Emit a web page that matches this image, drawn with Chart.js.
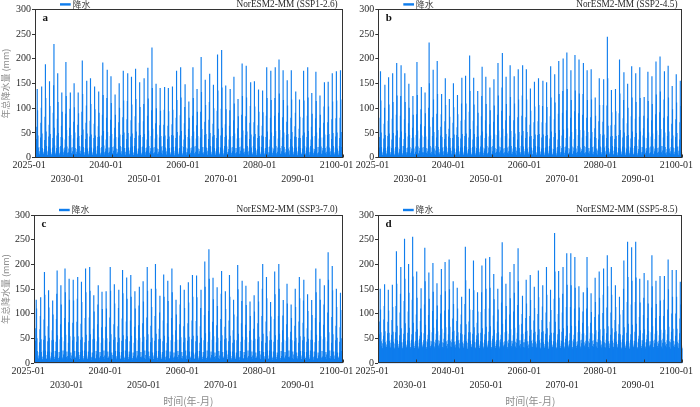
<!DOCTYPE html>
<html>
<head>
<meta charset="utf-8">
<script src="https://cdn.jsdelivr.net/npm/chart.js@4.4.0/dist/chart.umd.min.js"></script>
<style>
    html, body { margin: 0; padding: 0; background: #fff; }
    #wrap { position: relative; width: 700px; height: 407px; overflow: hidden; }
    canvas { position: absolute; }
</style>
</head>
<body>
<div id="wrap">
    <canvas id="pa" width="375" height="200" style="left:0;top:0"></canvas>
    <canvas id="pb" width="355" height="200" style="left:345px;top:0"></canvas>
    <canvas id="pc" width="375" height="207" style="left:0;top:200px"></canvas>
    <canvas id="pd" width="355" height="207" style="left:345px;top:200px"></canvas>
</div>
<script>
// --- DATA ---
// monthly precipitation (mm), 2025-01 .. 2100-01, one line per year (Jan..Dec)
const START_YEAR = 2025;
const MONTH_COUNT = 901;

const SERIES_LABEL = "降水";
const Y_TITLE = "年总降水量 (mm)";
const X_TITLE = "时间(年-月)";
const TICK_LABELS = ["2025-01", "2030-01", "2040-01", "2050-01", "2060-01", "2070-01", "2080-01", "2090-01", "2100-01"];
const TICK_INDEX = [0, 112, 225, 337, 450, 562, 675, 787, 900];
const Y_MIN = 0, Y_MAX = 300, Y_STEP = 50;

const ssp126 = [
    4,5,10,18,37,62,138,95,44,20,8,4,
    3,6,12,21,40,70,100,143,48,19,9,5,
    5,7,11,17,35,82,188,120,52,23,10,4,
    4,5,13,22,42,66,154,104,47,18,7,3,
    3,6,10,20,39,90,146,229,60,24,9,5,
    5,6,12,19,44,78,170,112,49,21,8,4,
    4,7,11,23,41,64,131,92,40,18,10,5,
    3,5,14,20,36,88,193,124,55,22,9,4,
    5,6,10,18,43,60,98,131,45,20,8,3,
    4,5,12,21,38,72,150,101,50,19,7,5,
    3,6,11,17,40,66,131,89,43,23,9,4,
    5,7,13,22,45,92,196,128,56,21,10,5,
    4,5,10,19,37,70,105,155,48,18,8,4,
    3,6,12,20,42,74,160,108,46,20,9,3,
    5,5,11,18,39,68,143,97,44,22,7,5,
    4,7,14,23,41,63,133,90,42,19,8,4,
    3,6,10,21,44,86,192,126,53,24,10,5,
    5,5,12,18,36,80,120,177,51,20,9,4,
    4,6,11,20,43,76,164,110,47,21,8,3,
    3,5,13,22,38,60,127,86,41,18,7,5,
    5,7,10,17,40,71,150,100,46,23,9,4,
    4,6,12,21,45,81,175,115,50,19,10,5,
    3,5,11,19,37,77,114,170,49,20,8,4,
    5,6,14,20,42,75,163,107,48,22,9,3,
    4,5,10,23,39,83,179,118,52,18,7,5,
    3,7,12,18,44,70,152,102,45,21,8,4,
    5,6,11,22,41,73,108,160,47,19,10,5,
    4,5,13,20,36,84,181,119,54,23,9,4,
    3,6,12,19,43,95,222,140,58,20,8,3,
    5,5,10,21,38,69,149,99,46,18,7,5,
    4,7,11,17,40,65,140,94,43,22,9,4,
    3,6,14,23,42,66,96,142,44,20,10,5,
    5,5,12,18,37,64,140,93,42,19,8,4,
    4,6,10,20,45,67,143,96,44,21,9,3,
    3,5,13,22,39,80,175,116,51,18,7,5,
    5,7,11,19,44,85,182,121,53,23,8,4,
    4,6,12,21,36,69,102,148,45,20,10,5,
    3,5,10,18,41,58,113,80,38,19,9,4,
    5,6,14,20,43,84,182,120,52,22,8,3,
    4,5,11,23,38,65,138,92,43,18,7,5,
    3,7,12,17,40,92,203,132,57,21,9,4,
    5,6,10,21,45,72,157,106,47,20,10,5,
    4,5,13,19,37,76,112,169,49,23,8,4,
    3,6,11,22,42,68,147,99,45,19,9,3,
    5,5,12,18,39,94,208,135,58,21,7,5,
    4,7,10,20,44,98,217,141,60,18,8,4,
    3,6,14,23,41,67,145,97,44,22,10,5,
    5,5,11,17,36,64,95,138,42,20,9,4,
    4,6,12,21,43,75,163,109,48,19,8,3,
    3,5,10,19,38,59,118,83,39,21,7,5,
    5,7,13,22,40,86,190,124,54,18,9,4,
    4,6,11,18,45,83,185,121,52,23,10,5,
    3,5,12,20,37,70,104,152,46,20,8,4,
    5,6,10,23,42,71,154,103,47,19,9,3,
    4,5,14,17,39,65,137,92,43,22,7,5,
    3,7,11,21,44,64,135,91,42,18,8,4,
    5,6,12,19,41,84,182,120,52,21,10,5,
    4,5,10,22,36,80,175,116,50,20,9,4,
    3,6,13,18,43,84,120,182,53,23,8,3,
    5,5,11,20,38,90,198,129,55,19,7,5,
    4,7,12,23,40,81,176,116,50,21,9,4,
    3,6,10,17,45,72,156,105,47,18,10,5,
    5,5,14,21,37,80,176,117,51,22,8,4,
    4,6,11,19,42,63,90,133,41,20,9,3,
    3,5,12,22,39,58,117,82,39,19,7,5,
    5,7,10,18,44,80,175,115,50,23,8,4,
    4,6,13,20,41,84,182,121,53,20,10,5,
    3,5,11,23,36,62,130,88,42,18,9,4,
    5,6,12,17,43,79,173,114,50,21,8,3,
    4,5,10,21,38,60,125,86,40,22,7,5,
    3,7,14,19,40,70,103,152,46,19,9,4,
    5,6,11,22,45,71,153,103,47,20,10,5,
    4,5,12,18,37,77,170,113,49,23,8,4,
    3,6,10,20,42,79,174,115,50,18,9,3,
    5,5,13,23,39,80,176,117,51,21,7,5,
    4
];

const ssp245 = [
    5,6,12,20,41,80,174,115,50,21,9,4,
    4,5,11,18,38,68,100,147,45,19,8,5,
    3,7,13,22,43,74,162,107,48,22,10,4,
    5,6,10,19,36,78,170,112,49,18,7,3,
    4,5,12,21,44,86,191,125,54,20,9,5,
    3,6,11,17,40,84,124,186,52,23,8,4,
    5,5,14,23,37,77,170,112,49,19,10,5,
    4,7,10,20,42,69,149,100,45,21,9,4,
    3,6,12,18,39,60,124,86,40,18,7,3,
    5,5,11,22,45,87,193,126,54,22,8,5,
    4,6,13,19,38,67,97,142,44,20,10,4,
    3,5,10,21,41,63,131,89,42,19,9,5,
    5,7,12,18,36,100,232,150,62,23,8,4,
    4,6,11,20,43,81,177,117,51,18,7,3,
    3,5,14,23,40,88,195,128,55,21,9,5,
    5,6,10,17,44,62,87,128,41,20,10,4,
    4,5,12,21,37,73,160,106,47,22,8,5,
    3,7,11,19,42,58,118,82,39,19,9,4,
    5,6,13,22,39,70,150,101,46,18,7,3,
    4,5,10,18,45,61,126,87,41,23,10,5,
    3,6,12,20,38,74,109,161,47,20,8,4,
    5,5,11,23,43,76,165,109,48,21,9,5,
    4,7,14,17,40,92,206,134,57,19,7,4,
    3,6,10,21,36,74,161,107,47,22,8,3,
    5,5,12,19,41,64,134,90,42,18,10,5,
    4,6,11,22,44,83,124,183,52,20,9,4,
    3,5,13,18,39,75,163,108,48,23,8,5,
    5,7,10,20,42,67,141,95,44,21,7,4,
    4,6,12,23,37,72,158,105,46,19,9,3,
    3,5,11,17,45,86,191,125,54,22,10,5,
    5,6,14,21,40,94,141,211,58,18,8,4,
    4,5,10,19,43,75,163,108,48,20,9,5,
    3,7,12,22,38,84,186,122,53,23,7,4,
    5,6,11,18,41,75,164,109,48,21,8,3,
    4,5,13,20,36,81,178,117,51,19,10,5,
    3,6,10,23,44,84,125,186,53,22,9,4,
    5,5,12,17,39,81,178,117,51,18,8,5,
    4,7,11,21,42,66,139,94,43,20,7,4,
    3,6,14,19,37,71,153,103,46,23,9,3,
    5,5,10,22,45,73,160,106,47,21,10,5,
    4,6,12,18,40,71,104,155,46,19,8,4,
    3,5,11,20,43,70,152,102,45,22,9,5,
    5,7,13,23,38,83,184,121,52,18,7,4,
    4,6,10,17,41,77,168,111,49,20,8,3,
    3,5,12,21,36,88,195,128,55,23,10,5,
    5,6,11,19,44,90,134,200,56,21,9,4,
    4,5,14,22,39,95,212,138,59,19,8,5,
    3,7,10,18,42,80,176,116,51,22,7,4,
    5,6,12,20,37,93,207,135,57,18,9,3,
    4,5,11,23,45,89,198,129,55,20,10,5,
    3,6,13,17,40,86,128,191,54,23,8,4,
    5,5,10,21,43,80,176,116,51,19,9,5,
    4,7,12,19,38,81,178,117,51,21,7,4,
    3,6,11,22,41,59,121,84,39,18,8,3,
    5,5,14,18,36,73,160,106,47,22,10,5,
    4,6,10,20,44,72,106,158,46,20,9,4,
    3,5,12,23,39,105,244,160,64,19,8,5,
    5,7,11,17,42,65,136,91,43,23,7,4,
    4,6,13,21,37,66,138,93,43,21,9,3,
    3,5,10,19,45,89,198,129,55,18,10,5,
    5,6,12,22,40,79,116,172,50,20,8,4,
    4,5,11,18,43,69,149,100,45,22,9,5,
    3,7,14,20,38,83,184,121,52,19,7,4,
    5,6,10,23,41,78,170,112,49,23,8,3,
    4,5,12,17,36,82,182,120,52,21,10,5,
    3,6,11,21,44,59,84,122,40,18,9,4,
    5,5,13,19,39,79,173,114,50,20,8,5,
    4,7,10,22,42,75,164,108,48,22,7,4,
    3,6,12,18,37,87,194,127,54,19,9,3,
    5,5,11,20,45,91,204,133,57,23,10,5,
    4,6,14,23,40,80,117,174,50,21,8,4,
    3,5,10,17,43,83,185,121,52,18,9,5,
    5,7,12,21,38,68,144,97,44,20,7,4,
    4,6,11,19,41,77,168,111,49,22,8,3,
    3,5,13,22,36,71,155,104,46,19,10,5,
    4
];

const ssp370 = [
    6,8,14,24,45,70,128,110,50,24,11,7,
    7,9,15,22,42,68,95,133,48,22,12,6,
    6,8,13,25,47,88,184,138,55,25,10,7,
    8,7,16,23,44,74,147,112,51,23,11,6,
    6,9,14,21,46,66,126,98,47,24,12,8,
    7,8,15,24,43,89,140,187,56,22,10,6,
    6,10,13,22,48,78,157,118,52,25,11,7,
    8,7,17,25,44,91,191,143,57,23,12,6,
    6,9,14,23,41,82,170,128,54,21,10,8,
    7,8,15,21,46,81,168,126,53,24,11,6,
    6,10,13,24,43,83,130,174,54,22,12,7,
    8,7,16,22,47,79,164,123,52,25,10,6,
    6,9,14,25,42,91,191,143,57,23,11,8,
    7,8,15,23,45,92,194,146,58,21,12,6,
    6,10,13,21,48,69,137,104,49,24,10,7,
    8,7,17,24,44,78,118,157,52,22,11,6,
    6,9,14,22,41,72,144,109,50,25,12,8,
    7,8,15,25,46,73,145,110,50,23,10,6,
    6,10,13,23,43,92,194,146,58,21,11,7,
    8,7,16,21,47,78,159,120,52,24,12,6,
    6,9,14,24,42,74,111,148,51,22,10,8,
    7,8,15,22,45,90,188,141,56,25,11,6,
    6,10,13,25,48,84,173,130,54,23,12,7,
    8,7,17,23,44,86,178,134,55,21,10,6,
    6,9,14,21,41,73,145,110,50,24,11,8,
    7,8,15,24,46,76,116,154,51,22,12,6,
    6,10,13,22,43,80,165,124,53,25,10,7,
    8,7,16,25,47,92,194,146,58,23,11,6,
    6,9,14,23,42,75,150,113,51,21,12,8,
    7,8,15,21,45,95,200,150,59,24,10,6,
    6,10,13,24,48,69,102,136,49,22,11,7,
    8,7,17,22,44,86,179,134,55,25,12,6,
    6,9,14,25,41,80,166,125,53,23,10,8,
    7,8,15,23,46,91,191,143,57,21,11,6,
    6,10,13,21,43,66,128,98,47,24,12,7,
    8,7,16,24,47,78,118,157,52,22,10,6,
    6,9,14,22,42,74,148,111,51,25,11,8,
    7,8,15,25,45,80,163,122,53,23,12,6,
    6,10,13,23,48,86,178,134,55,21,10,7,
    8,7,17,21,44,85,177,133,55,24,11,6,
    6,9,14,24,41,74,111,148,51,22,12,8,
    7,8,15,22,46,97,205,154,60,25,10,6,
    6,10,13,25,43,105,230,170,63,23,11,7,
    8,7,16,23,47,83,172,129,54,21,12,6,
    6,9,14,21,42,76,153,115,51,24,10,8,
    7,8,15,24,45,89,140,186,56,22,11,6,
    6,10,13,22,48,73,145,109,50,25,12,7,
    8,7,17,25,44,86,178,134,55,23,10,6,
    6,9,14,23,41,66,128,98,47,21,11,8,
    7,8,15,21,46,94,198,149,59,24,12,6,
    6,10,13,24,43,80,125,166,53,22,10,7,
    8,7,16,22,47,77,156,117,52,25,11,6,
    6,9,14,25,42,65,124,95,47,23,12,8,
    7,8,15,23,45,69,137,104,49,21,10,6,
    6,10,13,21,48,80,165,124,53,24,11,7,
    8,7,17,24,44,95,150,200,59,22,12,6,
    6,9,14,22,41,84,174,131,54,25,10,8,
    7,8,15,25,46,64,123,94,47,23,11,6,
    6,10,13,23,43,89,185,139,56,21,12,7,
    8,7,16,21,47,95,200,150,59,24,10,6,
    6,9,14,24,42,66,96,127,47,22,11,8,
    7,8,15,22,45,78,160,120,52,25,12,6,
    6,10,13,25,48,63,118,91,46,23,10,7,
    8,7,17,23,44,75,150,113,51,21,11,6,
    6,9,14,21,41,84,174,131,54,24,12,8,
    7,8,15,24,46,81,126,168,53,22,10,6,
    6,10,13,22,43,70,139,105,49,25,11,7,
    8,7,16,25,47,66,127,97,47,23,12,6,
    6,9,14,23,42,91,191,143,57,21,10,8,
    7,8,15,21,45,82,170,128,54,24,11,6,
    6,10,13,24,48,77,118,157,52,22,12,7,
    8,7,17,22,44,102,224,168,62,25,10,6,
    6,9,14,25,41,93,196,147,58,23,11,8,
    7,8,15,23,46,75,150,113,51,21,12,6,
    6,10,13,21,43,72,142,107,50,24,10,7,
    7
];

const ssp585 = [
    29,31,38,46,58,84,150,108,62,44,34,30,
    30,28,40,48,55,88,115,159,64,42,33,29,
    28,32,37,45,60,83,148,106,61,45,35,31,
    31,30,41,47,57,87,158,113,63,43,32,28,
    29,29,39,49,62,115,226,160,75,46,34,30,
    30,31,38,44,56,102,140,194,70,42,33,29,
    28,30,42,48,59,125,251,170,80,44,35,31,
    31,28,37,46,61,104,200,142,71,45,32,28,
    29,32,40,47,58,128,255,175,81,43,34,30,
    30,30,39,45,63,98,185,132,68,46,33,29,
    28,29,41,49,55,85,110,151,62,42,35,31,
    31,31,38,46,60,118,233,165,77,44,32,28,
    29,28,42,48,57,97,183,130,67,45,34,30,
    30,32,37,44,62,105,202,144,71,43,33,29,
    28,30,40,47,59,88,161,116,64,46,35,31,
    31,29,39,45,56,100,138,190,69,42,32,28,
    29,31,41,49,61,106,204,145,72,44,34,30,
    30,28,38,46,58,108,209,149,73,45,33,29,
    28,32,42,48,63,90,165,119,65,43,35,31,
    31,30,37,44,55,85,152,110,62,46,32,28,
    29,29,40,47,60,78,98,134,58,42,34,30,
    30,31,39,45,57,119,235,167,78,44,33,29,
    28,28,41,49,62,84,150,108,62,45,35,31,
    31,32,38,46,59,107,207,147,72,43,32,28,
    29,30,42,48,56,81,143,104,60,46,34,30,
    30,29,37,44,61,103,143,197,70,42,33,29,
    28,31,40,47,58,109,211,150,73,44,35,31,
    31,28,39,45,63,110,214,152,74,45,32,28,
    29,32,41,49,55,96,180,129,67,43,34,30,
    30,30,38,46,60,84,150,108,62,46,33,29,
    28,29,42,48,57,122,175,244,79,42,35,31,
    31,31,37,44,62,88,160,115,64,44,32,28,
    29,28,40,47,59,98,184,131,68,45,34,30,
    30,32,39,45,56,104,200,142,71,43,33,29,
    28,30,41,49,61,117,232,165,77,46,35,31,
    31,29,38,46,58,79,99,136,59,42,32,28,
    29,31,42,48,63,91,168,120,65,44,34,30,
    30,28,37,44,55,95,178,127,67,45,33,29,
    28,32,40,47,60,86,154,111,63,43,35,31,
    31,30,39,45,57,99,187,133,68,46,32,28,
    29,29,41,49,62,87,114,157,64,42,34,30,
    30,31,38,46,59,102,194,138,70,44,33,29,
    28,28,42,48,56,83,148,107,61,45,35,31,
    31,32,37,44,61,130,263,185,83,43,32,28,
    29,30,40,47,58,99,186,132,68,46,34,30,
    30,29,39,45,63,102,140,194,70,42,33,29,
    28,31,41,49,55,113,222,158,75,44,35,31,
    31,28,38,46,60,113,222,157,75,45,32,28,
    29,32,42,48,57,110,214,152,74,43,34,30,
    30,30,37,44,62,86,155,112,63,46,33,29,
    28,29,40,47,59,81,104,143,60,42,35,31,
    31,31,39,45,56,110,214,152,74,44,32,28,
    29,28,41,49,61,81,141,103,60,45,34,30,
    30,32,38,46,58,93,172,123,66,43,33,29,
    28,30,42,48,63,98,185,132,68,46,35,31,
    31,29,37,44,55,101,138,191,69,42,32,28,
    29,31,40,47,60,112,218,155,74,44,34,30,
    30,28,39,45,57,102,194,138,70,45,33,29,
    28,32,41,49,62,87,157,113,64,43,35,31,
    31,30,38,46,59,78,134,98,58,46,32,28,
    29,29,42,48,56,107,150,207,72,42,34,30,
    30,31,37,44,61,123,245,174,79,44,33,29,
    28,28,40,47,58,118,234,166,77,45,35,31,
    31,32,39,45,63,123,245,173,79,43,32,28,
    29,30,41,49,55,93,170,122,66,46,34,30,
    30,29,38,46,60,97,132,182,68,42,33,29,
    28,31,42,48,57,91,167,120,65,44,35,31,
    31,28,37,44,62,112,218,155,74,45,32,28,
    29,32,40,47,59,91,166,119,65,43,34,30,
    30,30,39,45,56,95,176,126,67,46,33,29,
    28,29,41,49,61,95,128,176,67,42,35,31,
    31,31,38,46,58,108,209,149,73,44,32,28,
    29,28,42,48,63,100,188,134,69,45,34,30,
    30,32,37,44,55,100,188,134,69,43,33,29,
    28,30,40,47,60,90,164,118,65,46,35,31,
    29
];

// month labels 2025-01 ... 2100-01
const MONTHS = [];
for (let i = 0; i < MONTH_COUNT; i++) {
    const y = START_YEAR + Math.floor(i / 12);
    const m = (i % 12) + 1;
    MONTHS.push(`${y}-${m < 10 ? "0" + m : m}`);
}

// --- STYLE ---
const BAR_COLOR = "#0f7ded";
const AXIS_COLOR = "#333";
const TEXT_COLOR = "#2a2a2a";
const TITLE_GREY = "#8c8c8c";
const SERIF = "'Liberation Serif', 'Times New Roman', serif";
const CJK = "'Noto Sans CJK SC', sans-serif";

const panels = [
    { id: "pa", values: ssp126, model: "NorESM2-MM (SSP1-2.6)", letter: "a", yWidth: 35, padRight: 32.3, padTop: 9.4, xHeight: 42.3, yTitle: true, xTitle: false },
    { id: "pb", values: ssp245, model: "NorESM2-MM (SSP2-4.5)", letter: "b", yWidth: 33.3, padRight: 15, padTop: 9.4, xHeight: 42.3, yTitle: false, xTitle: false },
    { id: "pc", values: ssp370, model: "NorESM2-MM (SSP3-7.0)", letter: "c", yWidth: 34, padRight: 32.3, padTop: 15, xHeight: 43.7, yTitle: true, xTitle: true },
    { id: "pd", values: ssp585, model: "NorESM2-MM (SSP5-8.5)", letter: "d", yWidth: 33, padRight: 15, padTop: 15, xHeight: 43.7, yTitle: false, xTitle: true }
];

// frame, inward x ticks, legend, model name and panel letter
const panelDecor = {
    id: "panelDecor",
    afterDraw(chart, args, opts) {
        const { ctx, chartArea: a } = chart;
        const xs = chart.scales.x;
        ctx.save();
        ctx.strokeStyle = AXIS_COLOR;
        ctx.lineWidth = 1;
        const l = Math.round(a.left) + 0.5, t = Math.round(a.top) + 0.5;
        const r = Math.round(a.right) - 0.5, b = Math.round(a.bottom) - 0.5;
        ctx.strokeRect(l, t, r - l, b - t);
        ctx.beginPath();
        xs.ticks.forEach((tk, i) => {
            const px = Math.round(xs.getPixelForTick(i)) + 0.5;
            ctx.moveTo(px, b);
            ctx.lineTo(px, b - 3);
        });
        ctx.stroke();

        const cy = a.top - 5;
        ctx.fillStyle = BAR_COLOR;
        ctx.fillRect(a.left + 25, cy - 1.2, 10.7, 2.4);
        ctx.fillStyle = "#444";
        ctx.font = `9px ${CJK}`;
        ctx.textBaseline = "middle";
        ctx.textAlign = "left";
        ctx.fillText(chart.data.datasets[0].label, a.left + 37.5, cy);

        ctx.fillStyle = TEXT_COLOR;
        ctx.font = `9.3px ${SERIF}`;
        ctx.textAlign = "right";
        ctx.fillText(opts.model, a.right - 5, cy);

        ctx.fillStyle = "#111";
        ctx.font = `bold 11px ${SERIF}`;
        ctx.textAlign = "left";
        ctx.textBaseline = "alphabetic";
        ctx.fillText(opts.letter, a.left + 7.5, a.top + 11.5);
        ctx.restore();
    }
};

function makeChart(p) {
    new Chart(document.getElementById(p.id), {
        type: "bar",
        data: {
            labels: MONTHS,
            datasets: [{
                label: SERIES_LABEL,
                data: p.values,
                backgroundColor: BAR_COLOR,
                borderWidth: 0,
                barPercentage: 1,
                categoryPercentage: 1,
                inflateAmount: 0.4
            }]
        },
        options: {
            responsive: false,
            animation: false,
            events: [],
            layout: { autoPadding: false, padding: { left: 0, right: p.padRight, top: p.padTop, bottom: 0 } },
            plugins: {
                legend: { display: false },
                tooltip: { enabled: false },
                panelDecor: { model: p.model, letter: p.letter }
            },
            scales: {
                x: {
                    grid: { display: false, drawTicks: false },
                    border: { display: false },
                    ticks: {
                        autoSkip: false,
                        maxRotation: 0,
                        minRotation: 0,
                        padding: 1,
                        labelOffset: -6,
                        color: TEXT_COLOR,
                        font: { family: SERIF, size: 10, lineHeight: 1.4 },
                        callback: (v, i) => i % 2 === 0 ? TICK_LABELS[i] : ["", TICK_LABELS[i]]
                    },
                    afterBuildTicks: s => { s.ticks = TICK_INDEX.map(v => ({ value: v })); },
                    afterFit: s => { s.height = p.xHeight; },
                    title: {
                        display: p.xTitle,
                        text: X_TITLE,
                        color: TITLE_GREY,
                        padding: 0,
                        font: { family: CJK, size: 10 }
                    }
                },
                y: {
                    min: Y_MIN,
                    max: Y_MAX,
                    grid: { display: true, drawOnChartArea: false, drawTicks: true, tickLength: 3, color: AXIS_COLOR },
                    border: { display: false },
                    ticks: {
                        stepSize: Y_STEP,
                        padding: 1,
                        color: TEXT_COLOR,
                        font: { family: SERIF, size: 10 }
                    },
                    afterFit: s => { s.width = p.yWidth; },
                    title: {
                        display: p.yTitle,
                        text: Y_TITLE,
                        color: TITLE_GREY,
                        padding: 0,
                        font: { family: CJK, size: 9 }
                    }
                }
            }
        },
        plugins: [panelDecor]
    });
}

panels.forEach(makeChart);
</script>
</body>
</html>
